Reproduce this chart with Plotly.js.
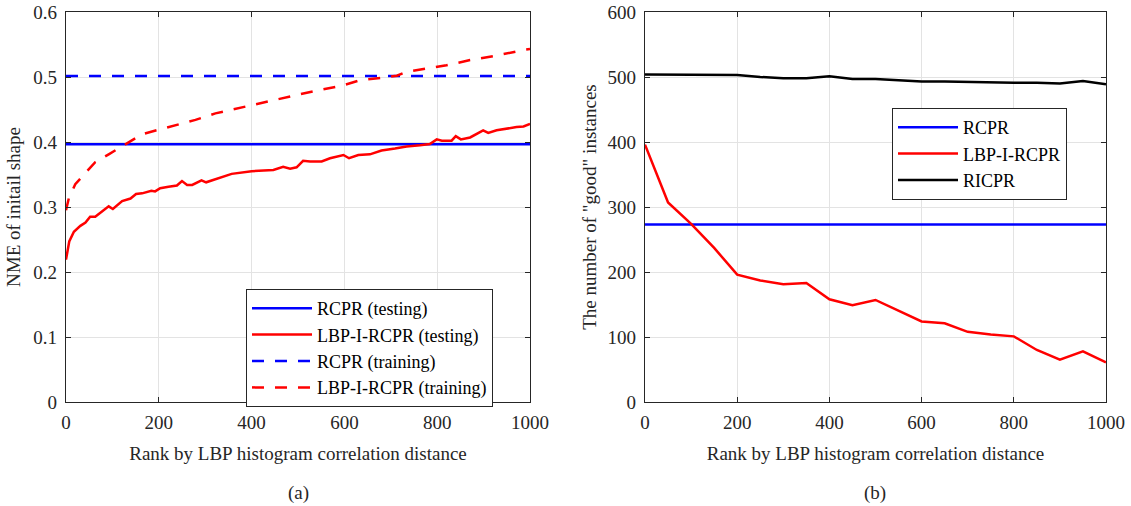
<!DOCTYPE html>
<html>
<head>
<meta charset="utf-8">
<script src="https://cdn.plot.ly/plotly-3.0.1.min.js"></script>
<style>html,body{margin:0;padding:0;background:#fff;}#chart{width:1131px;height:506px;}</style>
</head>
<body>
<div id="chart"></div>
<script>
// ---- Panel (a): NME of initial shape ----
const rcprTestX = [0, 1000];
const rcprTest = [0.3965, 0.3965];
const rcprTrainX = [0, 1000];
const rcprTrain = [0.5015, 0.5015];

const lbpTestX = [0, 7, 17, 31, 42, 52, 63, 85, 92, 101, 121, 139, 151, 164, 184, 192, 203, 221, 239, 250, 261, 272, 292, 302, 329, 357, 400, 447, 468, 483, 497, 511, 526, 551, 569, 583, 598, 610, 630, 655, 680, 709, 734, 763, 784, 799, 810, 831, 840, 851, 871, 899, 910, 928, 950, 971, 986, 1000];
const lbpTest = [0.219, 0.247, 0.262, 0.271, 0.276, 0.285, 0.285, 0.298, 0.301, 0.297, 0.309, 0.313, 0.320, 0.321, 0.325, 0.324, 0.329, 0.331, 0.333, 0.340, 0.334, 0.334, 0.341, 0.338, 0.344, 0.351, 0.355, 0.357, 0.362, 0.359, 0.361, 0.371, 0.370, 0.370, 0.375, 0.377, 0.380, 0.375, 0.380, 0.381, 0.387, 0.390, 0.393, 0.395, 0.397, 0.404, 0.402, 0.402, 0.409, 0.404, 0.407, 0.418, 0.414, 0.418, 0.421, 0.423, 0.424, 0.428];

const lbpTrainX = [0, 6, 20, 42, 63, 92, 128, 164, 200, 236, 279, 322, 372, 422, 483, 533, 591, 634, 684, 713, 734, 777, 820, 871, 928, 989, 1000];
const lbpTrain = [0.295, 0.313, 0.335, 0.353, 0.369, 0.381, 0.397, 0.412, 0.419, 0.426, 0.434, 0.444, 0.452, 0.460, 0.470, 0.478, 0.486, 0.495, 0.499, 0.502, 0.508, 0.513, 0.518, 0.526, 0.533, 0.542, 0.543];

// ---- Panel (b): number of "good" instances ----
const goodX = [0, 50, 100, 150, 200, 250, 300, 350, 400, 450, 500, 550, 600, 650, 700, 750, 800, 850, 900, 950, 1000];
const goodRcprX = [0, 1000];
const goodRcpr = [273, 273];
const goodLbp = [396, 307, 274, 237, 196, 187, 181, 183, 158, 149, 157, 141, 124, 121, 108, 104, 101, 80, 65, 78, 61];
const goodRicpr = [504, 504, 503, 503, 503, 500, 498, 498, 501, 497, 497, 495, 493, 493, 492, 492, 491, 491, 490, 494, 489];

const xTicks = [0, 200, 400, 600, 800, 1000];
const yTicksA = [0, 0.1, 0.2, 0.3, 0.4, 0.5, 0.6];
const yTickTextA = ["0", "0.1", "0.2", "0.3", "0.4", "0.5", "0.6"];
const yTicksB = [0, 100, 200, 300, 400, 500, 600];
const xTitle = "Rank by LBP histogram correlation distance";
const yTitleA = "NME of initail shape";
const yTitleB = 'The number of "good" instances';
const panelLabels = ["(a)", "(b)"];

const BLUE = "#0000ff", RED = "#ff0000", BLACK = "#000000";
const LW = 2.5;
const DASH = "12px,11px";

const traces = [
  {x: rcprTestX, y: rcprTest, name: "RCPR (testing)", mode: "lines", line: {color: BLUE, width: LW}, xaxis: "x", yaxis: "y", legend: "legend"},
  {x: lbpTestX, y: lbpTest, name: "LBP-I-RCPR (testing)", mode: "lines", line: {color: RED, width: LW}, xaxis: "x", yaxis: "y", legend: "legend"},
  {x: rcprTrainX, y: rcprTrain, name: "RCPR (training)", mode: "lines", line: {color: BLUE, width: LW, dash: DASH}, xaxis: "x", yaxis: "y", legend: "legend"},
  {x: lbpTrainX, y: lbpTrain, name: "LBP-I-RCPR (training)", mode: "lines", line: {color: RED, width: LW, dash: DASH}, xaxis: "x", yaxis: "y", legend: "legend"},
  {x: goodRcprX, y: goodRcpr, name: "RCPR", mode: "lines", line: {color: BLUE, width: LW}, xaxis: "x2", yaxis: "y2", legend: "legend2"},
  {x: goodX, y: goodLbp, name: "LBP-I-RCPR", mode: "lines", line: {color: RED, width: LW}, xaxis: "x2", yaxis: "y2", legend: "legend2"},
  {x: goodX, y: goodRicpr, name: "RICPR", mode: "lines", line: {color: BLACK, width: LW}, xaxis: "x2", yaxis: "y2", legend: "legend2"}
];

const FAMILY = "'Liberation Serif', 'Times New Roman', serif";
const FONT = {family: FAMILY, size: 19, color: "#262626"};
const LFONT = {family: FAMILY, size: 18, color: "#000"};
const AXC = "#262626";
const GRID = "#e3e3e3";

function xAxis(domain, anchor) {
  return {
    domain: domain, anchor: anchor, range: [0, 1000], tickvals: xTicks,
    showline: true, linecolor: AXC, linewidth: 1.2, mirror: "ticks",
    ticks: "inside", ticklen: 5, tickcolor: AXC,
    showgrid: true, gridcolor: GRID, gridwidth: 1, zeroline: false,
    tickfont: FONT, ticklabelstandoff: 3, ticklabeloverflow: "allow",
    title: {text: xTitle, font: FONT, standoff: 14}
  };
}
function yAxis(domain, anchor, range, tv, tt, title, standoff) {
  return {
    domain: domain, anchor: anchor, range: range, tickvals: tv, ticktext: tt,
    showline: true, linecolor: AXC, linewidth: 1.2, mirror: "ticks",
    ticks: "inside", ticklen: 5, tickcolor: AXC,
    showgrid: true, gridcolor: GRID, gridwidth: 1, zeroline: false,
    tickfont: FONT, ticklabelstandoff: 4, ticklabeloverflow: "allow",
    title: {text: title, font: FONT, standoff: standoff}
  };
}

const yDom = [1 - 402/506, 1 - 12/506];
const layout = {
  width: 1131, height: 506,
  margin: {l: 0, r: 0, t: 0, b: 0},
  paper_bgcolor: "#fff", plot_bgcolor: "#fff",
  font: FONT,
  showlegend: true,
  xaxis: xAxis([66/1131, 530/1131], "y"),
  yaxis: yAxis(yDom, "x", [0, 0.6000001], yTicksA, yTickTextA, yTitleA, 7),
  xaxis2: xAxis([645/1131, 1106/1131], "y2"),
  yaxis2: yAxis(yDom, "x2", [0, 600.0001], yTicksB, yTicksB.map(String), yTitleB, 5),
  legend: {
    x: 246/1131, y: 1 - 289/506, xanchor: "left", yanchor: "top",
    bgcolor: "#fff", bordercolor: AXC, borderwidth: 1, font: LFONT,
    itemwidth: 60, tracegroupgap: 0
  },
  legend2: {
    x: 892/1131, y: 1 - 108/506, xanchor: "left", yanchor: "top",
    bgcolor: "#fff", bordercolor: AXC, borderwidth: 1, font: LFONT,
    itemwidth: 60, tracegroupgap: 0
  },
  annotations: [
    {text: panelLabels[0], x: 298/1131, y: 1 - 493/506, xref: "paper", yref: "paper", showarrow: false, font: FONT, xanchor: "center", yanchor: "middle"},
    {text: panelLabels[1], x: 875/1131, y: 1 - 493/506, xref: "paper", yref: "paper", showarrow: false, font: FONT, xanchor: "center", yanchor: "middle"}
  ]
};

Plotly.newPlot("chart", traces, layout, {displayModeBar: false, staticPlot: true});
</script>
</body>
</html>
